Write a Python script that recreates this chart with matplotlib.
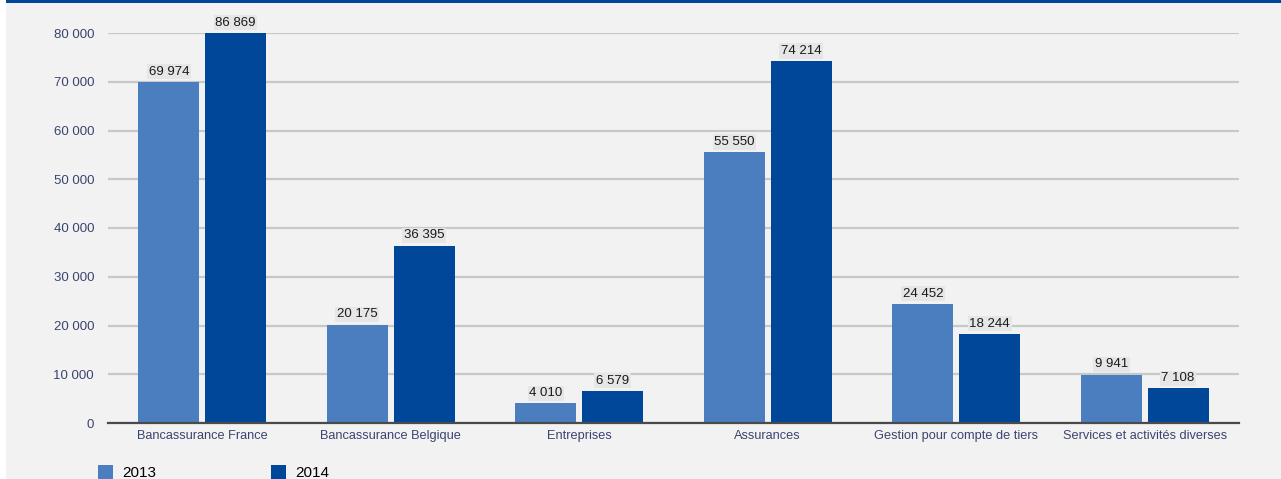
import matplotlib.pyplot as plt
import numpy as np
from matplotlib.patches import Patch, Rectangle

plt.rcParams['font.family'] = ['Liberation Sans', 'DejaVu Sans']

categories = ['Bancassurance France', 'Bancassurance Belgique', 'Entreprises',
              'Assurances', 'Gestion pour compte de tiers', 'Services et activités diverses']
vals_2013 = [69974, 20175, 4010, 55550, 24452, 9941]
vals_2014 = [86869, 36395, 6579, 74214, 18244, 7108]
yticks = [0, 10000, 20000, 30000, 40000, 50000, 60000, 70000, 80000]

c13 = '#4a7ebf'
c14 = '#00479a'
bg = '#f2f2f2'
txt = '#3a4470'

def fmt(v):
    return '{:,}'.format(v).replace(',', ' ')

fig = plt.figure(figsize=(12.81, 4.79), dpi=100, facecolor=bg)
ax = fig.add_axes([108/1281, 56/479, 1131/1281, 390/479])
ax.set_facecolor(bg)

x = np.arange(len(categories)) + 0.5
w = 0.324
gap = 0.03
b1 = ax.bar(x - w/2 - gap/2, vals_2013, w, color=c13, zorder=3)
b2 = ax.bar(x + w/2 + gap/2, vals_2014, w, color=c14, zorder=3)

ymax = 80000
ax.set_ylim(0, ymax)
ax.set_xlim(0, len(categories))

# value labels sit on top of the bar (clipped bars get the label at the axis top)
for bars, vals in ((b1, vals_2013), (b2, vals_2014)):
    for r, v in zip(bars, vals):
        ax.annotate(fmt(v), (r.get_x() + r.get_width()/2, min(v, ymax)),
                    xytext=(0, 3), textcoords='offset points', ha='center', va='bottom',
                    fontsize=9.5, color='#1a1a1a', annotation_clip=False, zorder=5,
                    bbox=dict(boxstyle='square,pad=0.12', fc='#e6e6e6', ec='none'))

ax.set_yticks(yticks)
ax.set_yticklabels([fmt(t) for t in yticks], fontsize=9.5, color=txt)
ax.set_xticks(x)
ax.set_xticklabels(categories, fontsize=9.2, color=txt)
ax.tick_params(length=0)
ax.tick_params(axis='y', pad=10)
ax.tick_params(axis='x', pad=5)
ax.grid(axis='y', color='#c8c8c8', lw=1.6, zorder=0)
for s in ('top', 'right', 'left'):
    ax.spines[s].set_visible(False)
ax.spines['bottom'].set_color('#4a4a4a')
ax.spines['bottom'].set_linewidth(1.6)
ax.spines['bottom'].set_zorder(4)

# top band and left margin
fig.patches.append(Rectangle((0, 1 - 3/479), 1, 3/479, transform=fig.transFigure,
                             fc=c14, ec='none', zorder=0))
fig.patches.append(Rectangle((0, 0), 6/1281, 1, transform=fig.transFigure,
                             fc='white', ec='none', zorder=0))

handles = [Patch(fc=c13, ec='none'), Patch(fc=c14, ec='none')]
fig.legend(handles, ['2013', '2014'], loc='upper left', bbox_to_anchor=(98/1281, 14/479),
           ncol=2, frameon=False, fontsize=11, handlelength=1.0, handleheight=1.0,
           handletextpad=0.6, columnspacing=7.5, borderpad=0, borderaxespad=0)

fig.savefig('out.png', dpi=100, facecolor=bg)
